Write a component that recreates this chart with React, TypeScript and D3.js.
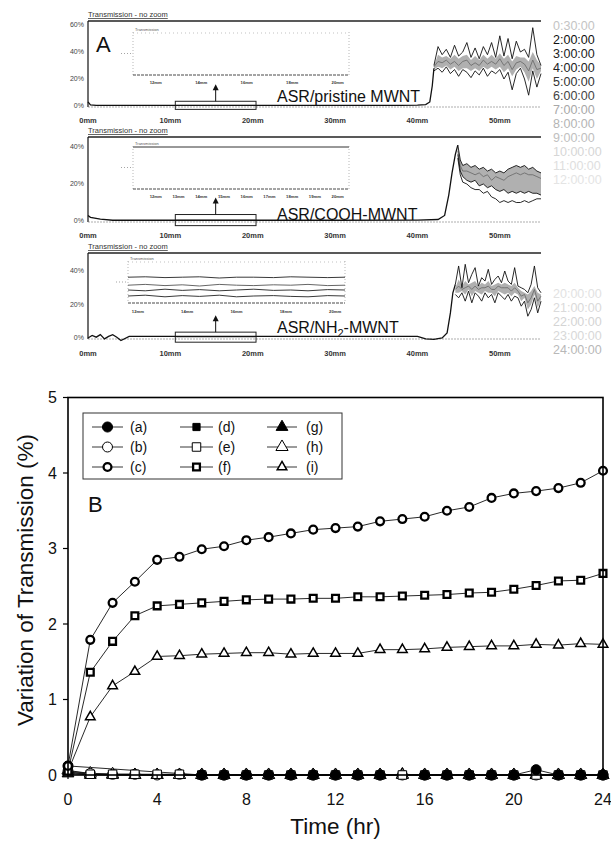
import React from "react";
import * as d3 from "d3";

// ---------- panel B : variation of transmission vs time ----------
const hours = [0, 1, 2, 3, 4, 5, 6, 7, 8, 9, 10, 11, 12, 13, 14, 15, 16, 17, 18, 19, 20, 21, 22, 23, 24];
const valsA = [0.12, null, null, null, null, null, 0, 0, 0, 0, 0, 0, 0, 0, 0, null, 0, 0, 0, 0, 0, 0.07, 0, 0, 0];
const valsB = [0.05, 0.02, 0.01, 0.01, 0, 0.01, 0, 0, 0, 0, 0, 0, 0, 0, 0, 0, 0, 0, 0, 0, 0, 0, 0, 0, 0];
const valsC = [0.12, 1.79, 2.28, 2.56, 2.85, 2.89, 2.99, 3.03, 3.11, 3.15, 3.2, 3.25, 3.27, 3.29, 3.36, 3.39, 3.42, 3.5, 3.55, 3.67, 3.73, 3.76, 3.8, 3.87, 4.03];
const valsD = [0.03, 0.01, 0, 0, 0, 0, 0, 0, 0, 0, 0, 0, 0, 0, 0, 0, 0, 0, 0, 0, 0, 0.01, 0, 0, 0];
const valsE = [0.04, 0.01, 0.01, 0.01, 0.01, 0.01, 0, 0, 0, 0, 0, 0, 0, 0, 0, 0, 0, 0, 0, 0, 0, 0, 0, 0, 0];
const valsF = [0.05, 1.36, 1.77, 2.11, 2.24, 2.26, 2.28, 2.3, 2.32, 2.33, 2.33, 2.34, 2.34, 2.36, 2.36, 2.37, 2.38, 2.39, 2.41, 2.42, 2.46, 2.51, 2.57, 2.58, 2.67];
const valsG = [0.02, 0, 0, 0, 0, 0, 0, 0, 0, 0, 0, 0, 0, 0, 0, 0.01, 0, 0, 0, 0, 0, 0, 0, 0, 0];
const valsH = [0.06, 0.02, 0.01, 0, 0, 0, 0, 0, 0, 0, 0, 0, 0, 0, 0, 0, 0, 0, 0, 0, 0, 0, 0, 0, 0];
const valsI = [0.05, 0.77, 1.18, 1.37, 1.57, 1.58, 1.6, 1.61, 1.62, 1.62, 1.6, 1.61, 1.61, 1.61, 1.66, 1.66, 1.67, 1.69, 1.7, 1.71, 1.71, 1.73, 1.72, 1.74, 1.73];
const hourTicks = [0, 4, 8, 12, 16, 20, 24];
const pctTicks = [0, 1, 2, 3, 4, 5];

// ---------- panel A : transmission profiles ----------
const mmTicks = [0, 10, 20, 30, 40, 50];

const prisBaseMm = [0, 0.3, 1, 10, 20, 30, 38, 40, 41, 41.5, 41.8, 42];
const prisBase = [3, 0.8, 0.5, 0.5, 0.5, 0.4, 0.4, 0.6, 1, 3, 15, 28];
const prisMm = [42, 42.5, 43, 43.5, 44, 44.5, 45, 45.5, 46, 46.5, 47, 47.5, 48, 48.5, 49, 49.5, 50, 50.5, 51, 51.5, 52, 52.5, 53, 53.5, 54, 54.5, 55];
const prisHi = [30, 44, 38, 42, 36, 45, 37, 40, 47, 36, 43, 35, 44, 38, 47, 36, 52, 37, 50, 35, 48, 40, 42, 36, 58, 38, 30];
const prisMid = [29, 33, 32, 34, 31, 33, 30, 33, 34, 30, 32, 30, 34, 31, 33, 31, 35, 30, 33, 27, 32, 33, 31, 26, 34, 27, 28];
const prisLo = [26, 28, 25, 29, 24, 27, 22, 27, 25, 21, 26, 23, 28, 22, 26, 24, 27, 20, 25, 12, 24, 28, 20, 8, 26, 14, 24];
const prisBandTop = [30, 38, 36, 37, 35, 38, 35, 37, 38, 34, 37, 34, 38, 35, 38, 35, 39, 35, 38, 33, 37, 36, 36, 33, 40, 34, 30];
const prisBandBot = [27, 29, 28, 30, 27, 29, 26, 28, 28, 26, 28, 26, 29, 27, 29, 27, 29, 25, 28, 22, 27, 29, 25, 18, 28, 20, 26];

const coohBaseMm = [0, 0.3, 1.5, 3, 10, 20, 30, 40, 42.5, 43.3, 43.8, 44.2, 44.6, 44.9];
const coohBase = [3, 2, 1, 0.4, 0.4, 0.4, 0.4, 0.5, 0.8, 3, 14, 26, 36, 41];
const coohMm = [44.9, 45.2, 45.5, 46, 46.5, 47, 47.5, 48, 48.5, 49, 49.5, 50, 50.5, 51, 51.5, 52, 52.5, 53, 53.5, 54, 54.5, 55];
const coohTop = [41, 33, 30, 31, 29, 30, 28, 29, 27, 28, 26, 27, 26, 28, 29, 30, 29, 30, 28, 29, 27, 26];
const coohMid = [38, 30, 27, 27, 26, 25, 26, 24, 25, 22, 24, 23, 22, 24, 25, 26, 25, 26, 25, 25, 24, 23];
const coohLow1 = [36, 27, 24, 22, 21, 22, 19, 20, 18, 19, 17, 16, 17, 15, 16, 15, 16, 15, 16, 15, 15, 14];
const coohLow2 = [34, 25, 21, 20, 18, 17, 17, 15, 16, 13, 12, 10, 11, 10, 11, 10, 10, 11, 10, 11, 12, 12];

const nh2BaseMm = [0, 0.5, 1, 1.5, 2, 2.5, 3, 3.5, 4, 5, 10, 20, 30, 40, 41, 42, 43, 43.6, 44, 44.3, 44.6];
const nh2Base = [0, 1.5, 0.5, 2, -0.5, 1, 2, 0.5, -1.5, 1, 1, 1, 1, 1, -0.5, -0.8, 0, 3, 15, 27, 32];
const nh2Mm = [44.6, 45, 45.4, 45.8, 46.2, 46.6, 47, 47.4, 47.8, 48.2, 48.6, 49, 49.4, 49.8, 50.2, 50.6, 51, 51.4, 51.8, 52.2, 52.6, 53, 53.4, 53.8, 54.2, 54.6, 55];
const nh2Hi = [32, 43, 30, 44, 33, 38, 42, 31, 36, 34, 41, 32, 35, 37, 33, 40, 34, 32, 42, 31, 30, 29, 27, 32, 43, 30, 27];
const nh2Mid = [29, 31, 29, 30, 31, 29, 31, 29, 30, 30, 31, 29, 29, 31, 30, 30, 30, 28, 30, 28, 25, 26, 21, 24, 29, 22, 25];
const nh2Lo = [26, 24, 27, 22, 28, 21, 27, 25, 22, 27, 24, 26, 21, 27, 25, 23, 26, 22, 25, 24, 19, 22, 13, 17, 24, 15, 22];
const nh2BandTop = [30, 35, 31, 34, 32, 33, 34, 31, 33, 32, 34, 31, 32, 33, 32, 33, 32, 31, 33, 30, 28, 27, 26, 28, 31, 27, 26];
const nh2BandBot = [27, 27, 28, 26, 29, 25, 28, 27, 26, 28, 27, 27, 25, 28, 27, 26, 27, 25, 27, 26, 22, 24, 17, 20, 26, 18, 23];

// zoomed inset of the NH2 sample (11-20 mm)
const nh2InsetMm = [11.6, 12.3, 13.1, 13.8, 14.5, 15.3, 16, 16.7, 17.5, 18.2, 18.9, 19.7, 20.4];
const nh2Inset1 = [41, 41.5, 40.5, 41, 41.5, 40, 41, 41, 40.5, 41.5, 41, 40.5, 41];
const nh2Inset2 = [31, 32, 30.5, 31.5, 30, 32, 31, 30.5, 31.5, 31, 32, 30.5, 31];
const nh2Inset3 = [25, 24, 26, 24.5, 25.5, 24, 25, 26, 24.5, 25, 24, 25.5, 25];
const nh2Inset4 = [17.5, 18.5, 16.5, 18, 17, 18.5, 16.5, 17.5, 18, 17, 16.5, 18, 17.5];

const insetTicks1 = [12, 14, 16, 18, 20];
const insetTicks2 = [12, 13, 14, 15, 16, 17, 18, 19, 20];

const runTimesTop = ["0:30:00", "2:00:00", "3:00:00", "4:00:00", "5:00:00", "6:00:00", "7:00:00", "8:00:00", "9:00:00", "10:00:00", "11:00:00", "12:00:00"];
const runTimesBottom = ["20:00:00", "21:00:00", "22:00:00", "23:00:00", "24:00:00"];
const runShadeTop = ["#c4c4c4", "#111", "#222", "#222", "#333", "#444", "#a8a8a8", "#b4b4b4", "#c0c0c0", "#d6d6d6", "#dedede", "#e4e4e4"];
const runShadeBottom = ["#e2e2e2", "#dadada", "#d4d4d4", "#d8d8d8", "#b8b8b8"];

const FONT = "'Liberation Sans', Arial, Helvetica, sans-serif";

const xA = d3.scaleLinear().domain([0, 55]).range([88, 541]);

const zip = (xs: number[], ys: (number | null)[]) =>
  xs.map((x, i) => [x, ys[i]] as [number, number | null]).filter((d) => d[1] != null) as [number, number][];

function ProfilePanel({ top, bottom, y, yTicks, children, labelY, titleY }: any) {
  return (
    <g>
      <text x={88} y={titleY} fontSize={7.5} fontFamily={FONT} fill="#333" textDecoration="underline">
        Transmission - no zoom
      </text>
      <line x1={88} x2={541} y1={top} y2={top} stroke="#222" strokeWidth={1.3} />
      <line x1={88} x2={88} y1={top} y2={bottom} stroke="#111" strokeWidth={1.2} />
      <line x1={88} x2={541} y1={bottom} y2={bottom} stroke="#777" strokeWidth={0.6} strokeDasharray="2 1" />
      {yTicks.map((t: number) => (
        <text key={t} x={84} y={y(t)} dy="0.35em" textAnchor="end" fontSize={7} fontFamily={FONT} fill="#444">
          {t}%
        </text>
      ))}
      {mmTicks.map((t) => (
        <text key={t} x={xA(t)} y={labelY} textAnchor="middle" fontSize={7.5} fontWeight="bold" fontFamily={FONT} fill="#333">
          {t}mm
        </text>
      ))}
      {children}
    </g>
  );
}

function Curves({ y, baseMm, base, mm, bandTop, bandBot, lines, midLines }: any) {
  const line = d3.line<[number, number]>().x((d) => xA(d[0])).y((d) => y(d[1]));
  const area = d3
    .area<[number, number, number]>()
    .x((d) => xA(d[0]))
    .y0((d) => y(d[2]))
    .y1((d) => y(d[1]));
  const bandPts = mm.map((m: number, i: number) => [m, bandTop[i], bandBot[i]] as [number, number, number]);
  return (
    <g>
      <path d={area(bandPts) || ""} fill="#b0b0b0" stroke="none" />
      {(midLines || []).map((vals: number[], i: number) => (
        <path key={"m" + i} d={line(zip(mm, vals)) || ""} fill="none" stroke="#666" strokeWidth={0.8} />
      ))}
      {lines.map((vals: number[], i: number) => (
        <path key={"l" + i} d={line(zip(mm, vals)) || ""} fill="none" stroke="#111" strokeWidth={0.9} />
      ))}
      <path d={line(zip(baseMm, base)) || ""} fill="none" stroke="#111" strokeWidth={1.3} />
    </g>
  );
}

function ZoomBox({ y }: any) {
  const x0 = xA(10.6);
  const x1 = xA(20.4);
  const cx = (x0 + x1) / 2;
  const y0 = y(3.5);
  const y1 = y(-2.5);
  return (
    <g>
      <rect x={x0} y={y0} width={x1 - x0} height={y1 - y0} fill="none" stroke="#222" strokeWidth={1} />
      <line x1={x0 + 1} x2={x1 - 1} y1={(y0 + y1) / 2} y2={(y0 + y1) / 2} stroke="#999" strokeWidth={0.8} />
      <line x1={cx} x2={cx} y1={y0} y2={y0 - 13} stroke="#111" strokeWidth={1} />
      <path d={`M${cx - 3},${y0 - 11} L${cx},${y0 - 17} L${cx + 3},${y0 - 11} Z`} fill="#111" />
    </g>
  );
}

function InsetFrame({ x0, x1, top, bottom, ticks, labelY, insetX, solidTop }: any) {
  return (
    <g fontFamily={FONT}>
      <text x={x0 + 2} y={top - 1} fontSize={4} fill="#555">Transmission</text>
      <line x1={x0} x2={x1} y1={top + 1} y2={top + 1} stroke={solidTop ? "#333" : "#999"} strokeWidth={solidTop ? 1 : 0.6} strokeDasharray={solidTop ? undefined : "1 3"} />
      <line x1={x0} x2={x0} y1={top} y2={bottom} stroke="#888" strokeWidth={0.6} strokeDasharray="1 2" />
      <line x1={x1} x2={x1} y1={top} y2={bottom} stroke="#888" strokeWidth={0.6} strokeDasharray="1 2" />
      <line x1={x0} x2={x1} y1={bottom} y2={bottom} stroke="#333" strokeWidth={0.9} strokeDasharray="3 1" />
      <line x1={x0 - 12} x2={x0} y1={(top + bottom) / 2} y2={(top + bottom) / 2} stroke="#666" strokeWidth={0.6} strokeDasharray="1 2" />
      {ticks.map((t: number) => (
        <text key={t} x={insetX(t)} y={labelY} textAnchor="middle" fontSize={4.2} fontWeight="bold" fill="#333">
          {t}mm
        </text>
      ))}
    </g>
  );
}

function PanelA() {
  const y1 = d3.scaleLinear().domain([0, 60]).range([106, 25]);
  const y2 = d3.scaleLinear().domain([0, 40]).range([221, 147]);
  const y3 = d3.scaleLinear().domain([0, 40]).range([338, 271]);
  const inset12 = d3.scaleLinear().domain([11, 20.5]).range([133, 349]);
  const inset3x = d3.scaleLinear().domain([11.6, 20.4]).range([128, 345]);
  const inset3y = d3.scaleLinear().domain([0, 60]).range([310, 262]);
  const insetLine = d3.line<[number, number]>().x((d) => inset3x(d[0])).y((d) => inset3y(d[1]));
  const labelStyle = { fontFamily: FONT, fontSize: 16, fill: "#111" };

  return (
    <g>
      {/* pristine MWNT */}
      <ProfilePanel top={21} bottom={107} y={y1} yTicks={[0, 20, 40, 60]} labelY={123} titleY={17}>
        <InsetFrame x0={133} x1={349} top={32} bottom={75} ticks={insetTicks1} labelY={84} insetX={inset12} />
        <ZoomBox y={y1} />
        <Curves y={y1} baseMm={prisBaseMm} base={prisBase} mm={prisMm} bandTop={prisBandTop} bandBot={prisBandBot} lines={[prisHi, prisLo]} midLines={[prisMid]} />
        <text x={277} y={102} {...labelStyle}>ASR/pristine MWNT</text>
        <text x={96} y={52} fontFamily={FONT} fontSize={22} fill="#111">A</text>
      </ProfilePanel>

      {/* COOH-MWNT */}
      <ProfilePanel top={137} bottom={222} y={y2} yTicks={[0, 20, 40]} labelY={238} titleY={133}>
        <InsetFrame x0={133} x1={349} top={146} bottom={189} ticks={insetTicks2} labelY={198} insetX={inset12} solidTop />
        <ZoomBox y={y2} />
        <Curves y={y2} baseMm={coohBaseMm} base={coohBase} mm={coohMm} bandTop={coohTop} bandBot={coohLow1} lines={[coohTop, coohLow1, coohLow2]} midLines={[coohMid]} />
        <text x={277} y={220} {...labelStyle}>ASR/COOH-MWNT</text>
      </ProfilePanel>

      {/* NH2-MWNT */}
      <ProfilePanel top={253} bottom={339} y={y3} yTicks={[0, 20, 40]} labelY={356} titleY={249}>
        <InsetFrame x0={128} x1={345} top={261} bottom={303} ticks={insetTicks1} labelY={313} insetX={inset3x} />
        {[nh2Inset1, nh2Inset2, nh2Inset3, nh2Inset4].map((vals, i) => (
          <path key={i} d={insetLine(zip(nh2InsetMm, vals)) || ""} fill="none" stroke={i === 1 ? "#555" : "#222"} strokeWidth={0.9} />
        ))}
        <ZoomBox y={y3} />
        <Curves y={y3} baseMm={nh2BaseMm} base={nh2Base} mm={nh2Mm} bandTop={nh2BandTop} bandBot={nh2BandBot} lines={[nh2Hi, nh2Lo]} midLines={[nh2Mid]} />
        <text x={277} y={333} {...labelStyle}>
          ASR/NH<tspan fontSize={11} dy={4}>2</tspan>
          <tspan dy={-4}>-MWNT</tspan>
        </text>
      </ProfilePanel>

      {/* run time legend on the right */}
      <g fontFamily={FONT} fontSize={12.5}>
        {runTimesTop.map((t, i) => (
          <text key={t} x={553} y={26 + 14 * i} dy="0.35em" fill={runShadeTop[i]}>{t}</text>
        ))}
        {runTimesBottom.map((t, i) => (
          <text key={t} x={553} y={294 + 14 * i} dy="0.35em" fill={runShadeBottom[i]}>{t}</text>
        ))}
      </g>
    </g>
  );
}

// ---------- panel B ----------
const xB = d3.scaleLinear().domain([0, 24]).range([68, 603]);
const yB = d3.scaleLinear().domain([0, 5]).range([775, 397.5]);

const sym = (type: d3.SymbolType, size: number) => d3.symbol().type(type).size(size)() || "";

const seriesB = [
  { key: "a", vals: valsA, path: sym(d3.symbolCircle, 80), fill: "#000", sw: 1 },
  { key: "b", vals: valsB, path: sym(d3.symbolCircle, 78), fill: "#fff", sw: 1 },
  { key: "c", vals: valsC, path: sym(d3.symbolCircle, 48), fill: "#fff", sw: 2.3 },
  { key: "d", vals: valsD, path: sym(d3.symbolSquare, 52), fill: "#000", sw: 1 },
  { key: "e", vals: valsE, path: sym(d3.symbolSquare, 72), fill: "#fff", sw: 1 },
  { key: "f", vals: valsF, path: sym(d3.symbolSquare, 46), fill: "#fff", sw: 2.3 },
  { key: "g", vals: valsG, path: sym(d3.symbolTriangle, 60), fill: "#000", sw: 1 },
  { key: "h", vals: valsH, path: sym(d3.symbolTriangle, 64), fill: "#fff", sw: 1 },
  { key: "i", vals: valsI, path: sym(d3.symbolTriangle, 40), fill: "#fff", sw: 1.5 },
];
const drawOrder = ["d", "g", "h", "b", "e", "a", "i", "f", "c"];

function PanelB() {
  const line = d3.line<[number, number]>().x((d) => xB(d[0])).y((d) => yB(d[1]));
  const byKey = (k: string) => seriesB.find((s) => s.key === k)!;
  const legendCols = [
    { keys: ["a", "b", "c"], x0: 92, x1: 123, lx: 130 },
    { keys: ["d", "e", "f"], x0: 180, x1: 213, lx: 218 },
    { keys: ["g", "h", "i"], x0: 267, x1: 297, lx: 306 },
  ];
  const rowY = [427, 447, 467];

  return (
    <g fontFamily={FONT}>
      {/* series lines */}
      {seriesB.map((s) => (
        <path key={"line" + s.key} d={line(zip(hours, s.vals)) || ""} fill="none" stroke="#111" strokeWidth={0.9} />
      ))}
      {/* markers */}
      {drawOrder.map((k) => {
        const s = byKey(k);
        return (
          <g key={"pts" + k}>
            {zip(hours, s.vals).map((d) => (
              <path key={d[0]} d={s.path} transform={`translate(${xB(d[0])},${yB(d[1])})`} fill={s.fill} stroke="#000" strokeWidth={s.sw} />
            ))}
          </g>
        );
      })}

      {/* frame */}
      <rect x={68} y={397.5} width={535} height={377.5} fill="none" stroke="#000" strokeWidth={1.6} />

      {/* axes ticks */}
      {pctTicks.map((t) => (
        <g key={"y" + t}>
          <line x1={63} x2={68} y1={yB(t)} y2={yB(t)} stroke="#000" strokeWidth={1.2} />
          <text x={57} y={yB(t)} dy="0.36em" textAnchor="end" fontSize={16} fill="#111">{t}</text>
        </g>
      ))}
      {hourTicks.map((t) => (
        <g key={"x" + t}>
          <line x1={xB(t)} x2={xB(t)} y1={775} y2={779} stroke="#000" strokeWidth={1.2} />
          <text x={xB(t)} y={805} textAnchor="middle" fontSize={16} fill="#111">{t}</text>
        </g>
      ))}

      <text x={335.5} y={834} textAnchor="middle" fontSize={22.5} fill="#111">Time (hr)</text>
      <text transform="translate(33,580) rotate(-90)" textAnchor="middle" fontSize={22.5} fill="#111">
        Variation of Transmission (%)
      </text>
      <text x={88} y={512} fontSize={22} fill="#111">B</text>

      {/* legend */}
      <rect x={83} y={413} width={259} height={66} fill="#fff" stroke="#333" strokeWidth={1} />
      {legendCols.map((c) =>
        c.keys.map((k, r) => {
          const s = byKey(k);
          const cy = rowY[r];
          return (
            <g key={"leg" + k}>
              <line x1={c.x0} x2={c.x1} y1={cy} y2={cy} stroke="#222" strokeWidth={0.9} />
              <path d={s.path} transform={`translate(${(c.x0 + c.x1) / 2},${cy})`} fill={s.fill} stroke="#000" strokeWidth={s.sw} />
              <text x={c.lx} y={cy} dy="0.36em" fontSize={14} fill="#111">({k})</text>
            </g>
          );
        })
      )}
    </g>
  );
}

export default function App() {
  return (
    <div style={{ position: "absolute", left: 0, top: 0, width: 611, height: 843, background: "#fff" }}>
      <svg width={611} height={843} style={{ display: "block" }}>
        <rect width={611} height={843} fill="#fff" />
        <PanelA />
        <PanelB />
      </svg>
    </div>
  );
}
